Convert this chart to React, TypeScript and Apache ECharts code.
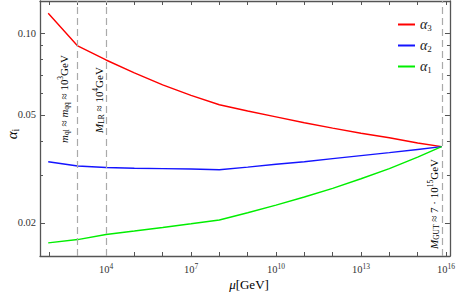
import React, { useEffect, useRef } from "react";
import * as echarts from "echarts";

// Scale mu in GeV (from M_Z to M_GUT)
const MU = [91.19, 1e3, 1e4, 1e5, 1e6, 1e7, 1e8, 1e9, 1e10, 1e11, 1e12, 1e13, 1e14, 1e15, 7e15];
const ALPHA3 = [0.1185, 0.0898, 0.0797, 0.0714, 0.0645, 0.059, 0.0545, 0.0517, 0.0492, 0.0468, 0.0447, 0.0428, 0.0412, 0.0394, 0.0382];
const ALPHA2 = [0.0336, 0.0324, 0.032, 0.0318, 0.0317, 0.0316, 0.0314, 0.0321, 0.0329, 0.0336, 0.0345, 0.0354, 0.0363, 0.0373, 0.0382];
const ALPHA1 = [0.01688, 0.01736, 0.01812, 0.01866, 0.01924, 0.01985, 0.0205, 0.02179, 0.02325, 0.02491, 0.0268, 0.02909, 0.0317, 0.03494, 0.0382];

const X_TICK_EXP = [2, 3, 4, 5, 6, 7, 8, 9, 10, 11, 12, 13, 14, 15, 16];
const X_LABEL_EXP = [4, 7, 10, 13, 16];
const Y_MAJOR = [0.02, 0.05, 0.1];
const Y_MINOR = [0.03, 0.04, 0.06, 0.07, 0.08, 0.09];
const Y_LABELS = ["0.02", "0.05", "0.10"];
const MARK_SCALES = [1e3, 1e4, 7e15];

const X_MIN = 1.67;
const X_MAX = 16.14;
const Y_MIN = Math.log10(0.0151);
const Y_MAX = Math.log10(0.1315);

const FRAME = "#555";
const SERIF = "'Liberation Serif', 'DejaVu Serif', serif";

const lg = (v: number) => Math.log10(v);

export default function App() {
  const ref = useRef<HTMLDivElement>(null);
  useEffect(() => {
    if (!ref.current) return;
    const chart = echarts.init(ref.current, undefined, { renderer: "svg" });
    const mk = (vals: number[]) => MU.map((m, i) => [lg(m), lg(vals[i])]);
    const supRich = {
      sup: { fontSize: 7.5, fontFamily: SERIF, color: "#333", padding: [0, 0, 7, 0] },
    };
    const yAxisBase = (pos: "left" | "right", values: number[], len: number, labels: boolean, line: boolean) => ({
      type: "value",
      position: pos,
      min: Y_MIN,
      max: Y_MAX,
      splitLine: { show: false },
      axisLine: { show: line, lineStyle: { color: FRAME, width: 1.3 } },
      axisTick: {
        show: true,
        inside: true,
        length: len,
        customValues: values.map(lg),
        lineStyle: { color: FRAME, width: 1 },
      },
      axisLabel: labels
        ? {
            show: true,
            customValues: Y_MAJOR.map(lg),
            formatter: (v: number) => {
              const a = Math.pow(10, v);
              let best = 0;
              Y_MAJOR.forEach((t, i) => {
                if (Math.abs(t - a) < Math.abs(Y_MAJOR[best] - a)) best = i;
              });
              return Y_LABELS[best];
            },
            fontFamily: SERIF,
            fontSize: 10.5,
            color: "#333",
            margin: 4,
          }
        : { show: false },
    });
    const xAxisBase = (pos: "top" | "bottom", labels: boolean) => ({
      type: "value",
      position: pos,
      min: X_MIN,
      max: X_MAX,
      splitLine: { show: false },
      axisLine: { show: true, lineStyle: { color: FRAME, width: 1.3 } },
      axisTick: {
        show: true,
        inside: true,
        length: 4,
        customValues: X_TICK_EXP,
        lineStyle: { color: FRAME, width: 1 },
      },
      axisLabel: labels
        ? {
            show: true,
            customValues: X_LABEL_EXP,
            formatter: (v: number) => `10{sup|${Math.round(v)}}`,
            fontFamily: SERIF,
            fontSize: 10.5,
            color: "#333",
            margin: 6,
            rich: supRich,
          }
        : { show: false },
    });

    const lineSeries = (name: string, color: string, vals: number[]) => ({
      name,
      type: "line",
      data: mk(vals),
      symbol: "none",
      smooth: false,
      xAxisIndex: 0,
      yAxisIndex: 0,
      lineStyle: { color, width: 1.4 },
      itemStyle: { color },
    });

    const sub = { fontSize: 7.5, fontFamily: SERIF, color: "#222", padding: [5, 0, 0, 0] };
    const sup = { fontSize: 7.5, fontFamily: SERIF, color: "#222", padding: [0, 0, 7, 0] };
    const it = { fontSize: 11, fontFamily: SERIF, fontStyle: "italic", color: "#222" };
    const nm = { fontSize: 11, fontFamily: SERIF, color: "#222" };
    const annRich = { sub, sup, it, nm };

    const legendNames: Record<string, string> = { a3: "3", a2: "2", a1: "1" };

    chart.setOption({
      animation: false,
      grid: { left: 40, right: 5, top: 1, bottom: 36, containLabel: false },
      xAxis: [xAxisBase("bottom", true), xAxisBase("top", false)],
      yAxis: [
        yAxisBase("left", Y_MAJOR, 5, true, true),
        yAxisBase("left", Y_MINOR, 3, false, false),
        yAxisBase("right", Y_MAJOR, 5, false, true),
        yAxisBase("right", Y_MINOR, 3, false, false),
      ],
      legend: {
        orient: "vertical",
        left: 393,
        top: 12,
        itemWidth: 17,
        itemHeight: 2,
        itemGap: 6,
        icon: "rect",
        data: ["a3", "a2", "a1"],
        formatter: (n: string) => `{a|α}{s|${legendNames[n]}}`,
        textStyle: {
          rich: {
            a: { fontSize: 14, fontFamily: SERIF, fontStyle: "italic", color: "#222", lineHeight: 18 },
            s: { fontSize: 9, fontFamily: SERIF, color: "#222", padding: [6, 0, 0, 0], lineHeight: 18 },
          },
        },
      },
      series: [
        {
          ...lineSeries("a3", "#ff0000", ALPHA3),
          markLine: {
            silent: true,
            symbol: "none",
            label: { show: false },
            lineStyle: { color: "#aaa", type: [7, 4], width: 1.2 },
            data: MARK_SCALES.map((m) => ({ xAxis: lg(m) })),
          },
        },
        lineSeries("a2", "#1414ff", ALPHA2),
        lineSeries("a1", "#00ee00", ALPHA1),
      ],
      graphic: [
        {
          type: "text",
          x: 64,
          y: 99,
          rotation: Math.PI / 2,
          style: {
            text: "{it|m}{sub|ql}{nm| ≈ }{it|m}{sub|qq}{nm| ≈ 10}{sup|3}{nm|GeV}",
            align: "center",
            verticalAlign: "middle",
            rich: annRich,
          },
        },
        {
          type: "text",
          x: 99,
          y: 100,
          rotation: Math.PI / 2,
          style: {
            text: "{it|M}{sub|LR}{nm| ≈ 10}{sup|4}{nm|GeV}",
            align: "center",
            verticalAlign: "middle",
            rich: annRich,
          },
        },
        {
          type: "text",
          x: 434,
          y: 204,
          rotation: Math.PI / 2,
          style: {
            text: "{it|M}{sub|GUT}{nm| ≈ 7 · 10}{sup|15}{nm|GeV}",
            align: "center",
            verticalAlign: "middle",
            rich: annRich,
          },
        },
        {
          type: "text",
          x: 249,
          y: 284,
          style: {
            text: "{it|μ}{nm|[GeV]}",
            align: "center",
            verticalAlign: "middle",
            rich: {
              it: { fontSize: 13, fontFamily: SERIF, fontStyle: "italic", color: "#222" },
              nm: { fontSize: 13, fontFamily: SERIF, color: "#222" },
            },
          },
        },
        {
          type: "text",
          x: 12,
          y: 134,
          rotation: Math.PI / 2,
          style: {
            text: "{it|α}{sub|i}",
            align: "center",
            verticalAlign: "middle",
            rich: {
              it: { fontSize: 15, fontFamily: SERIF, fontStyle: "italic", color: "#222" },
              sub: { fontSize: 10, fontFamily: SERIF, color: "#222", padding: [6, 0, 0, 0] },
            },
          },
        },
      ],
    });
    return () => chart.dispose();
  }, []);
  return (
    <div
      ref={ref}
      style={{ position: "absolute", left: 0, top: 0, width: 458, height: 292, background: "#fff" }}
    />
  );
}
